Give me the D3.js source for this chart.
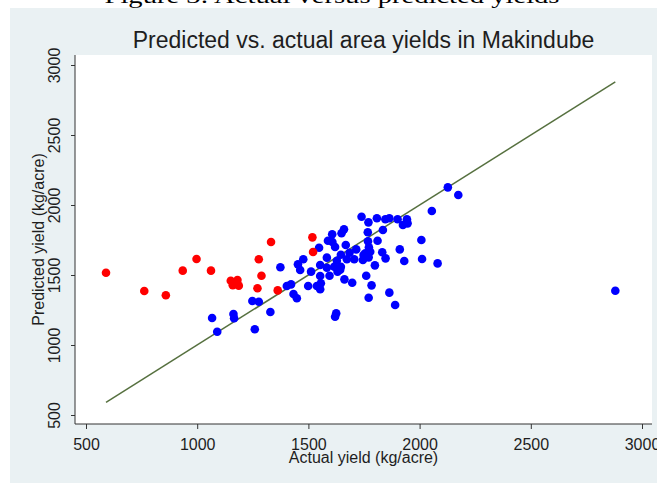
<!DOCTYPE html>
<html>
<head>
<meta charset="utf-8">
<script src="https://cdn.jsdelivr.net/npm/d3@7"></script>
<style>
  body { margin: 0; background: #fff; }
  svg { display: block; }
</style>
</head>
<body>
<script>
const W = 657, H = 483;

// actual (x) vs predicted (y) yields, kg/acre
const blueActual = [1374, 1067, 1090, 1163, 1166, 1248, 1277, 1259, 1329, 1403, 1422, 1433, 1448, 1453,
  2127, 2174, 2055, 1739, 1808, 1846, 1864, 1901, 1770, 1943, 1925, 1946, 1835, 1660, 1649, 1607, 1767,
  1588, 1608, 1548, 1620, 1668, 1768, 1772, 1811, 1715, 1832, 1911, 2008, 1685, 1477, 1583, 1646, 1628,
  1673, 1706, 1748, 1745, 1771, 1756, 1778, 1847, 1931, 2011, 2081, 1553, 1583, 1616, 1646, 1643, 1512,
  1463, 1553, 1595, 1631, 1799, 1760, 1499, 1538, 1556, 1553, 1662, 1697, 1784, 1771, 1864, 1890, 1625,
  1620, 2880];
const bluePredicted = [1555, 1193, 1095, 1221, 1191, 1314, 1309, 1112, 1236, 1421, 1433, 1364, 1334, 1576,
  2126, 2071, 1957, 1916, 1905, 1898, 1905, 1898, 1876, 1898, 1857, 1869, 1821, 1826, 1798, 1791, 1805,
  1745, 1736, 1695, 1700, 1714, 1741, 1698, 1745, 1683, 1662, 1683, 1750, 1659, 1612, 1624, 1645, 1602,
  1612, 1612, 1643, 1607, 1626, 1655, 1666, 1619, 1600, 1614, 1583, 1571, 1552, 1559, 1559, 1538, 1524,
  1536, 1493, 1495, 1524, 1569, 1495, 1421, 1421, 1441, 1398, 1469, 1445, 1426, 1338, 1374, 1286, 1226,
  1202, 1388];
const redActual = [590, 762, 859, 935, 997, 1062, 1151, 1181, 1160, 1187, 1332, 1277, 1289, 1271, 1362, 1518, 1521];
const redPredicted = [1516, 1386, 1355, 1531, 1614, 1531, 1459, 1464, 1427, 1424, 1736, 1612, 1495, 1405, 1390, 1769, 1664];
const xTicks = [500, 1000, 1500, 2000, 2500, 3000];
const yTicks = [500, 1000, 1500, 2000, 2500, 3000];
const lineEnds = [590, 2880];

const svg = d3.select("body").append("svg")
    .attr("width", W)
    .attr("height", H)
    .style("font-family", "'Liberation Sans', Arial, sans-serif");

// page caption, mostly cut off at the top
svg.append("text")
    .attr("x", 332)
    .attr("y", 3)
    .attr("text-anchor", "middle")
    .attr("textLength", 455)
    .attr("lengthAdjust", "spacingAndGlyphs")
    .style("font-family", "'Liberation Serif', 'DejaVu Serif', serif")
    .style("font-size", "22px")
    .attr("fill", "#000")
    .text("Figure 3: Actual versus predicted yields");

// graph region
svg.append("rect")
    .attr("x", 10).attr("y", 8)
    .attr("width", W - 10).attr("height", H - 8)
    .attr("fill", "#eaf1f3");

const plot = { left: 75, right: 652, top: 55, bottom: 424 };

svg.append("rect")
    .attr("x", plot.left).attr("y", plot.top)
    .attr("width", plot.right - plot.left)
    .attr("height", plot.bottom - plot.top)
    .attr("fill", "#fff");

const x = d3.scaleLinear().domain([500, 3000]).range([86, 642]);
const y = d3.scaleLinear().domain([500, 3000]).range([415, 65]);

// title
svg.append("text")
    .attr("x", (plot.left + plot.right) / 2)
    .attr("y", 48)
    .attr("text-anchor", "middle")
    .style("font-size", "23px")
    .attr("fill", "#1e1e1e")
    .text("Predicted vs. actual area yields in Makindube");

// axes
const xAxis = svg.append("g")
    .attr("transform", `translate(0,${plot.bottom})`)
    .call(d3.axisBottom(x).tickValues(xTicks).tickSize(5).tickFormat(d3.format("d")));
xAxis.select(".domain").remove();
xAxis.selectAll(".tick line").attr("stroke", "#333");
xAxis.selectAll(".tick text")
    .attr("y", 14.5)
    .attr("dy", "0.71em")
    .style("font-size", "16px")
    .style("font-family", "'Liberation Sans', Arial, sans-serif")
    .attr("fill", "#1e1e1e");

const yAxis = svg.append("g")
    .attr("transform", `translate(${plot.left},0)`)
    .call(d3.axisLeft(y).tickValues(yTicks).tickSize(4).tickFormat(d3.format("d")));
yAxis.select(".domain").remove();
yAxis.selectAll(".tick line").attr("stroke", "#333");
yAxis.selectAll(".tick text")
    .attr("x", 0)
    .attr("dy", 0)
    .attr("text-anchor", "middle")
    .attr("transform", "translate(-15,0) rotate(-90)")
    .style("font-size", "16px")
    .style("font-family", "'Liberation Sans', Arial, sans-serif")
    .attr("fill", "#1e1e1e");

svg.append("line")
    .attr("x1", plot.left).attr("x2", plot.right)
    .attr("y1", plot.bottom).attr("y2", plot.bottom)
    .attr("stroke", "#333").attr("stroke-width", 1);
svg.append("line")
    .attr("x1", plot.left).attr("x2", plot.left)
    .attr("y1", plot.top).attr("y2", plot.bottom)
    .attr("stroke", "#333").attr("stroke-width", 1);

// axis titles
svg.append("text")
    .attr("x", (plot.left + plot.right) / 2)
    .attr("y", 463)
    .attr("text-anchor", "middle")
    .style("font-size", "16px")
    .attr("fill", "#1e1e1e")
    .text("Actual yield (kg/acre)");

svg.append("text")
    .attr("transform", `translate(44,${(plot.top + plot.bottom) / 2}) rotate(-90)`)
    .attr("text-anchor", "middle")
    .style("font-size", "16px")
    .attr("fill", "#1e1e1e")
    .text("Predicted yield (kg/acre)");

// 45 degree line
svg.append("line")
    .attr("x1", x(lineEnds[0])).attr("y1", y(lineEnds[0]))
    .attr("x2", x(lineEnds[1])).attr("y2", y(lineEnds[1]))
    .attr("stroke", "#56703f")
    .attr("stroke-width", 1.5);

// points
const blue = blueActual.map((a, i) => ({ a, p: bluePredicted[i] }));
const red = redActual.map((a, i) => ({ a, p: redPredicted[i] }));

svg.append("g").selectAll("circle")
    .data(blue)
    .join("circle")
    .attr("cx", d => x(d.a))
    .attr("cy", d => y(d.p))
    .attr("r", 4.3)
    .attr("fill", "#0000ff");

svg.append("g").selectAll("circle")
    .data(red)
    .join("circle")
    .attr("cx", d => x(d.a))
    .attr("cy", d => y(d.p))
    .attr("r", 4.3)
    .attr("fill", "#ff0000");
</script>
</body>
</html>
